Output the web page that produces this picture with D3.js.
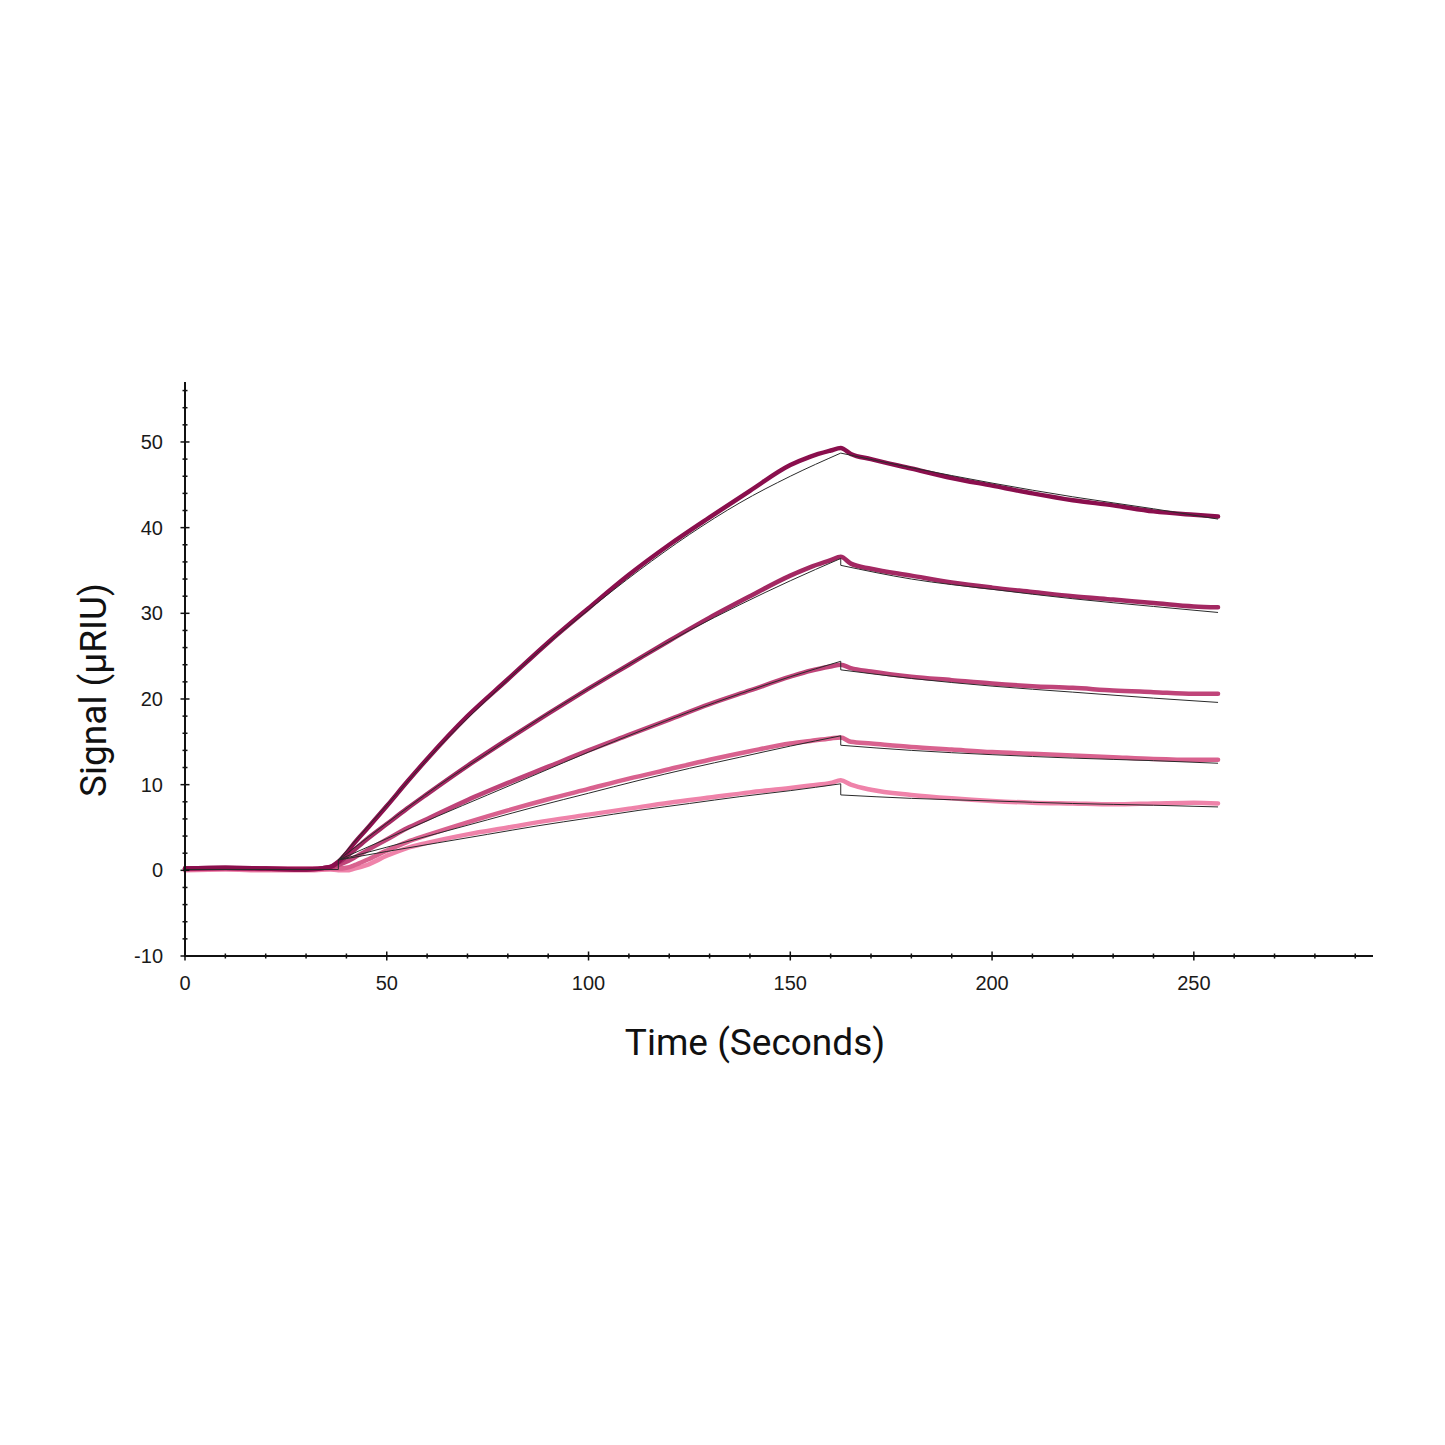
<!DOCTYPE html>
<html><head><meta charset="utf-8">
<script src="https://cdn.jsdelivr.net/npm/d3@7"></script>
<style>body{margin:0;background:#fff}svg{display:block}</style>
</head><body>
<script>
// ---- data ----
const dataTime = [0,10,20,30,36,38,40,42,45,50,55,60,70,80,90,100,110,120,130,140,150,155,160,162.5,165,170,180,190,200,210,220,230,240,250,256];
const series1 = [0.2,0.3,0.2,0.1,0.4,1.0,2.0,3.2,4.8,7.5,10.3,13.0,18.0,22.3,26.6,30.6,34.5,38.0,41.2,44.3,47.3,48.3,49.0,49.3,48.6,48.0,46.9,45.8,44.9,44.0,43.2,42.6,41.9,41.5,41.3];
const series2 = [0.2,0.3,0.2,0.1,0.4,0.9,1.6,2.4,3.6,5.4,7.2,8.9,12.2,15.3,18.3,21.2,24.0,26.8,29.5,32.0,34.4,35.4,36.2,36.6,35.8,35.2,34.4,33.6,33.0,32.5,32.0,31.6,31.2,30.8,30.7];
const series3 = [0.2,0.2,0.2,0.2,0.3,0.6,1.0,1.5,2.3,3.6,4.9,6.0,8.2,10.2,12.1,14.0,15.8,17.6,19.4,21.0,22.6,23.3,23.8,24.0,23.6,23.2,22.6,22.2,21.8,21.5,21.3,21.0,20.8,20.6,20.6];
const series4 = [0.1,0.2,0.1,0.1,0.2,0.2,0.3,0.6,1.2,2.3,3.3,4.1,5.6,7.0,8.3,9.5,10.7,11.8,12.9,13.9,14.8,15.1,15.4,15.5,15.0,14.8,14.4,14.1,13.8,13.6,13.4,13.2,13.0,12.9,12.9];
const series5 = [0.0,0.1,0.0,0.0,0.1,0.0,0.0,0.2,0.6,1.7,2.6,3.2,4.2,5.0,5.8,6.5,7.2,7.9,8.5,9.1,9.6,9.9,10.2,10.5,10.0,9.4,8.8,8.4,8.1,7.9,7.8,7.7,7.8,7.9,7.8];
const seriesColors = ["#8a0f4d","#a32862","#bf4479","#d9628f","#ef83aa"];

const baseTime = [0,38];
const baseFit = [0.1,0.1];
const assocTime = [38,50,62.5,75,87.5,100,112.5,125,137.5,150,162.5];
const fit1Assoc = [1.2,7.6,14.2,20.0,25.5,30.4,35.0,39.2,42.9,46.0,48.7];
const fit2Assoc = [1.2,5.5,9.8,13.7,17.6,21.2,24.7,28.0,31.0,33.8,36.4];
const fit3Assoc = [1.2,3.7,6.3,8.8,11.3,13.8,16.2,18.5,20.6,22.6,24.4];
const fit4Assoc = [1.2,2.7,4.3,5.9,7.5,9.0,10.5,11.9,13.2,14.5,15.7];
const fit5Assoc = [1.2,2.2,3.2,4.2,5.2,6.1,7.0,7.8,8.6,9.3,10.1];
const dissocTime = [162.5,180,200,220,240,256];
const fit1Dissoc = [48.7,47.0,45.2,43.6,42.2,41.0];
const fit2Dissoc = [35.6,34.0,32.8,31.7,30.8,30.1];
const fit3Dissoc = [23.4,22.4,21.5,20.8,20.1,19.6];
const fit4Dissoc = [14.6,14.0,13.5,13.1,12.8,12.5];
const fit5Dissoc = [8.8,8.4,8.1,7.8,7.6,7.4];

const xTicks = [0,50,100,150,200,250];
const yTicks = [-10,0,10,20,30,40,50];
const xLabel = "Time (Seconds)";
const yLabel = "Signal (µRIU)";

// ---- drawing ----
const W = 1445, H = 1445;
const svg = d3.select("body").append("svg").attr("width", W).attr("height", H);
const x = d3.scaleLinear().domain([0, 294.4]).range([185, 1373]);
const y = d3.scaleLinear().domain([-10, 57]).range([956, 382]);

const dataSeries = [series1, series2, series3, series4, series5];
const fits = [[fit1Assoc, fit1Dissoc],[fit2Assoc, fit2Dissoc],[fit3Assoc, fit3Dissoc],[fit4Assoc, fit4Dissoc],[fit5Assoc, fit5Dissoc]];

const lineM = d3.line().x(d => x(d[0])).y(d => y(d[1])).curve(d3.curveMonotoneX);
const lineL = d3.line().x(d => x(d[0])).y(d => y(d[1]));

const gData = svg.append("g");
for (let i = dataSeries.length - 1; i >= 0; i--) {
  const s = dataSeries[i];
  const pts = dataTime.map((t, k) => [t, s[k]]);
  gData.append("path").attr("d", lineM(pts))
    .attr("fill", "none").attr("stroke", seriesColors[i])
    .attr("stroke-width", 4.5).attr("stroke-linejoin", "round").attr("stroke-linecap", "round");
}

const gFit = svg.append("g").attr("fill", "none").attr("stroke", "#2a2a2a").attr("stroke-width", 1);
gFit.append("path").attr("d", lineL(baseTime.map((t, k) => [t, baseFit[k]])));
gFit.append("path").attr("d", lineL([[baseTime[1], baseFit[1]], [assocTime[0], fit1Assoc[0]]]));
fits.forEach(([a, d]) => {
  gFit.append("path").attr("d", lineM(assocTime.map((t, k) => [t, a[k]])));
  gFit.append("path").attr("d", lineL([[assocTime[assocTime.length-1], a[a.length-1]], [dissocTime[0], d[0]]]));
  gFit.append("path").attr("d", lineM(dissocTime.map((t, k) => [t, d[k]])));
});

// axes
const gAx = svg.append("g").attr("stroke", "#111");
gAx.append("line").attr("x1", x(0)).attr("x2", x(0)).attr("y1", y(57)).attr("y2", y(-10)).attr("stroke-width", 2);
gAx.append("line").attr("x1", x(0) - 1).attr("x2", x(294.4)).attr("y1", y(-10)).attr("y2", y(-10)).attr("stroke-width", 2);

d3.range(-10, 57, 2).forEach(v => {
  const major = v % 10 === 0;
  const len = major ? 4.5 : 2.5;
  gAx.append("line").attr("x1", x(0) - len).attr("x2", x(0) + len).attr("y1", y(v)).attr("y2", y(v)).attr("stroke-width", 1.5);
});
d3.range(0, 295, 10).forEach(t => {
  const major = t % 50 === 0;
  const len = major ? 4.5 : 2.5;
  gAx.append("line").attr("x1", x(t)).attr("x2", x(t)).attr("y1", y(-10) - len).attr("y2", y(-10) + len).attr("stroke-width", 1.5);
});

const tickFont = "'Liberation Sans', Arial, sans-serif";
svg.append("g").selectAll("text").data(yTicks).join("text")
  .attr("x", 163).attr("y", d => y(d)).attr("dy", "0.35em")
  .attr("text-anchor", "end").attr("font-family", tickFont).attr("font-size", 20).attr("fill", "#1a1a1a")
  .text(d => d);
svg.append("g").selectAll("text").data(xTicks).join("text")
  .attr("x", d => x(d)).attr("y", 990)
  .attr("text-anchor", "middle").attr("font-family", tickFont).attr("font-size", 20).attr("fill", "#1a1a1a")
  .text(d => d);

svg.append("text").attr("x", 755).attr("y", 1055).attr("text-anchor", "middle")
  .attr("font-family", "Roboto, sans-serif").attr("font-size", 37).attr("fill", "#111").text(xLabel);
svg.append("text").attr("transform", "translate(106,690) rotate(-90)").attr("text-anchor", "middle")
  .attr("font-family", "Roboto, sans-serif").attr("font-size", 37).attr("fill", "#111").text(yLabel);
</script>
</body></html>
